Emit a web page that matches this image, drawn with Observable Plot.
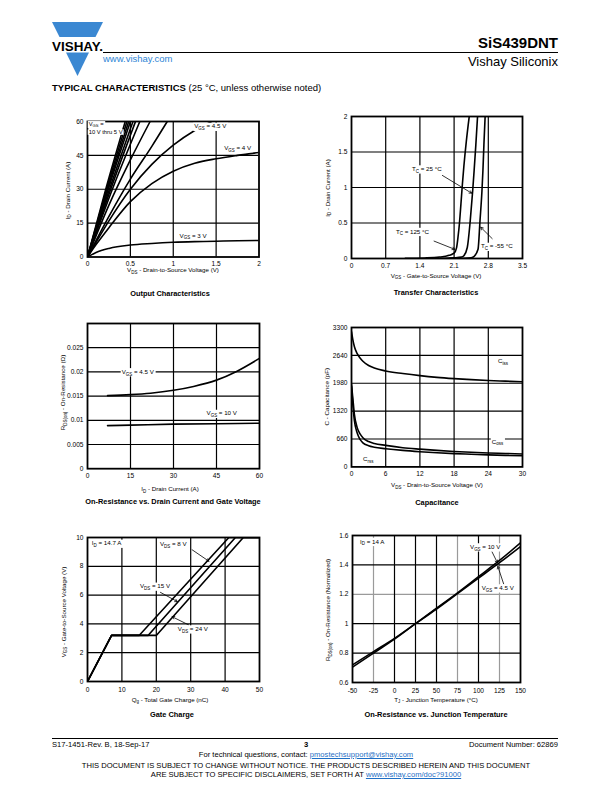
<!DOCTYPE html>
<html><head><meta charset="utf-8">
<script src="https://cdn.jsdelivr.net/npm/d3@7"></script>
<script src="https://cdn.jsdelivr.net/npm/@observablehq/plot@0.6"></script>
<style>
body{margin:0;background:#fff;}
#page{position:relative;width:612px;height:792px;overflow:hidden;font-family:'Liberation Sans',Arial,Helvetica,sans-serif;color:#000;background:#fff;}
.abs{position:absolute;white-space:nowrap;line-height:1;}
a{color:#1f6fc5;text-decoration:underline;}
</style></head><body><div id="page"></div>
<script>
// ---------------- DATA ----------------
// Output Characteristics: ID (A) vs VDS (V)
const outVgs10 = [[0,0],[0.22,31],[0.44,60]];
const outVgs9  = [[0,0],[0.23,31],[0.46,60]];
const outVgs8  = [[0,0],[0.24,31],[0.48,60]];
const outVgs7  = [[0,0],[0.25,31],[0.5,60]];
const outVgs6  = [[0,0],[0.265,31],[0.53,60]];
const outVgs55 = [[0,0],[0.28,31],[0.56,60]];
const outVgs5  = [[0,0],[0.3,31],[0.61,60]];
const outVgsB  = [[0,0],[0.25,23],[0.5,43],[0.73,60]];
const outVgsC  = [[0,0],[0.25,18],[0.5,34.5],[0.75,49],[0.93,60]];
const outVgs45 = [[0,0],[0.1,6.5],[0.25,16],[0.5,30],[0.75,41],[1,49.5],[1.25,56],[1.45,60]];
const outVgs4  = [[0,0],[0.1,5.5],[0.25,13],[0.5,24.5],[0.75,32.5],[1,38],[1.25,41.5],[1.5,43.5],[1.75,45],[2,46.3]];
const outVgs3  = [[0,0],[0.1,2],[0.25,3.8],[0.5,5.3],[0.75,6],[1,6.5],[1.25,6.8],[1.5,7],[1.75,7.2],[2,7.3]];
const outXTicks = [0,0.5,1,1.5,2];
const outYTicks = [0,15,30,45,60];

// Transfer Characteristics: ID (A) vs VGS (V)
const trT125 = [[1.1,0.003],[1.5,0.008],[1.8,0.02],[2.0,0.045],[2.1,0.075],[2.15,0.15],[2.18,0.3],[2.21,0.5],[2.24,0.77],[2.27,1.05],[2.3,1.3],[2.35,1.65],[2.41,2]];
const trT25  = [[1.6,0.002],[1.9,0.004],[2.1,0.01],[2.25,0.02],[2.3,0.04],[2.37,0.155],[2.43,0.53],[2.48,0.95],[2.51,1.24],[2.545,1.6],[2.58,2]];
const trTm55 = [[2.0,0.002],[2.3,0.004],[2.45,0.01],[2.51,0.03],[2.59,0.13],[2.63,0.53],[2.67,0.95],[2.69,1.24],[2.71,1.6],[2.735,2]];
const trXTicks = [0,0.7,1.4,2.1,2.8,3.5];
const trYTicks = [0,0.5,1,1.5,2];

// On-Resistance vs Drain Current: RDS(on) (ohm) vs ID (A)
const ronVgs45 = [[7,0.0151],[15,0.0153],[22,0.0156],[30,0.0162],[37,0.017],[45,0.0183],[52,0.0201],[60,0.0228]];
const ronVgs10 = [[7,0.0089],[15,0.009],[30,0.0092],[45,0.0093],[60,0.0094]];
const ronXTicks = [0,15,30,45,60];
const ronYTicks = [0,0.005,0.01,0.015,0.02,0.025];

// Capacitance: C (pF) vs VDS (V)
const capCiss = [[0,3200],[0.25,3000],[0.5,2850],[1,2680],[1.5,2580],[2,2500],[3,2400],[4,2340],[6,2270],[9,2210],[12,2160],[15,2120],[18,2090],[21,2065],[24,2045],[27,2030],[30,2015]];
const capCoss = [[0,1950],[0.25,1600],[0.5,1250],[1,930],[1.5,780],[2,690],[3,600],[4,555],[6,510],[9,455],[12,420],[15,390],[18,365],[21,345],[24,330],[27,318],[30,305]];
const capCrss = [[0,1900],[0.25,1450],[0.5,1100],[1,800],[1.5,650],[2,570],[3,500],[4,465],[6,430],[9,390],[12,360],[15,335],[18,315],[21,300],[24,285],[27,272],[30,262]];
const capXTicks = [0,6,12,18,24,30];
const capYTicks = [0,660,1320,1980,2640,3300];

// Gate Charge: VGS (V) vs Qg (nC)
const gcVds8  = [[0,0],[7,3.2],[15,3.2],[41.1,10],[50,10]];
const gcVds15 = [[0,0],[7,3.2],[17.6,3.2],[43,10],[50,10]];
const gcVds24 = [[0,0],[7,3.2],[20,3.2],[45.3,10],[50,10]];
const gcXTicks = [0,10,20,30,40,50];
const gcYTicks = [0,2,4,6,8,10];

// On-Resistance vs Junction Temperature (normalized)
const rtVgs10 = [[-50,0.705],[-25,0.8],[0,0.895],[25,1.0],[50,1.105],[75,1.21],[100,1.32],[125,1.43],[150,1.55]];
const rtVgs45 = [[-50,0.72],[-25,0.81],[0,0.9],[25,1.0],[50,1.1],[75,1.205],[100,1.31],[125,1.415],[150,1.525]];
const rtXTicks = [-50,-25,0,25,50,75,100,125,150];
const rtYTicks = [0.6,0.8,1,1.2,1.4,1.6];
const rtGridDarkX = [0,25,50,100];
const rtGridLightX = [-25,75,125];
const rtGridDarkY = [0.8,1,1.4];
const rtGridLightY = [1.2];

// ---------------- HELPERS ----------------
const FONT = "'Liberation Sans', Arial, Helvetica, sans-serif";
const TICK = 6.6, AXL = 6.2, NOTE = 6.2, TITLE = 7.4;
const page = document.getElementById("page");
const rows = (name, pts) => pts.map(([x, y]) => ({s: name, x, y}));
const inner = a => a.slice(1, -1);

function htext(html, o) {
  const d = document.createElement("div");
  d.className = "abs";
  d.innerHTML = html;
  d.style.fontSize = o.size + "px";
  d.style.fontWeight = o.weight || "normal";
  if (o.color) d.style.color = o.color;
  d.style.top = (o.baseline - 0.8465 * o.size) + "px";
  if (o.right != null) d.style.right = (612 - o.right) + "px";
  else if (o.center != null) { d.style.left = o.center + "px"; d.style.transform = "translateX(-50%)"; }
  else d.style.left = o.left + "px";
  page.appendChild(d);
  return d;
}

function rich(svg, x, y, str, o = {}) {
  const size = o.size ?? NOTE;
  const sel = d3.select(svg);
  const t = sel.append("text").attr("x", x).attr("y", y)
    .attr("font-family", FONT).attr("font-size", size)
    .attr("font-weight", o.weight ?? "normal")
    .attr("text-anchor", o.anchor ?? "start").attr("fill", "#000");
  if (o.rotate) t.attr("transform", `rotate(${o.rotate},${x},${y})`);
  const sh = size * 0.3;
  let shifted = false;
  const push = (txt, sub) => {
    if (!txt) return;
    const ts = t.append("tspan").text(txt);
    if (sub) { ts.attr("font-size", size * 0.72); if (!shifted) ts.attr("dy", sh); shifted = true; }
    else if (shifted) { ts.attr("dy", -sh); shifted = false; }
  };
  const re = /_\{([^}]*)\}/g; let last = 0, m;
  while ((m = re.exec(str))) { push(str.slice(last, m.index), false); push(m[1], true); last = re.lastIndex; }
  push(str.slice(last), false);
  if (o.bg) {
    const b = t.node().getBBox();
    sel.insert("rect", () => t.node())
      .attr("x", b.x - 1).attr("y", b.y + 0.3).attr("width", b.width + 2).attr("height", b.height - 0.6)
      .attr("fill", "#fff");
  }
  return t;
}

function scaleFn(s) {
  if (s && typeof s.apply === "function") return v => s.apply(v);
  const [d0, d1] = s.domain, [r0, r1] = s.range;
  return v => r0 + (v - d0) / (d1 - d0) * (r1 - r0);
}

function chart(cfg) {
  const f = cfg.frame;
  const m = {l: 40, r: 12, t: 12, b: 40};
  const fmt = d => String(d);
  const marks = [
    ...cfg.grids,
    Plot.line(cfg.series, {x: "x", y: "y", z: "s", stroke: "#000", strokeWidth: 1.6, curve: cfg.curve ?? "monotone-x", clip: true}),
  ];
  if (cfg.arrows) marks.push(Plot.arrow(cfg.arrows, {x1: "x1", y1: "y1", x2: "x2", y2: "y2", stroke: "#000", strokeWidth: 0.8, headLength: 5}));
  marks.push(Plot.frame({stroke: "#000", strokeWidth: 1.8}));
  const plot = Plot.plot({
    width: f.w + m.l + m.r, height: f.h + m.t + m.b,
    marginLeft: m.l, marginRight: m.r, marginTop: m.t, marginBottom: m.b,
    style: {fontFamily: FONT, fontSize: TICK + "px", background: "transparent", overflow: "visible", color: "#000"},
    x: {domain: cfg.xd, ticks: cfg.xt, tickSize: 0, tickPadding: cfg.xpad ?? 4.5, tickFormat: fmt, label: null},
    y: {domain: cfg.yd, ticks: cfg.yt, tickSize: 0, tickPadding: 4, tickFormat: fmt, label: null},
    marks
  });
  const ox = f.l - m.l, oy = f.t - m.t;
  plot.style.position = "absolute";
  plot.style.left = ox + "px";
  plot.style.top = oy + "px";
  page.appendChild(plot);
  const fx = scaleFn(plot.scale("x")), fy = scaleFn(plot.scale("y"));
  return {
    svg: plot,
    note: (x, y, s, o = {}) => rich(plot, fx(x), fy(y), s, {bg: true, ...o}),
    pnote: (px, py, s, o = {}) => rich(plot, px - ox, py - oy, s, o)
  };
}
const gX = (v, c = "#000") => Plot.ruleX(v, {stroke: c, strokeWidth: 1.2});
const gY = (v, c = "#000") => Plot.ruleY(v, {stroke: c, strokeWidth: 1.2});

// ---------------- HEADER ----------------
page.insertAdjacentHTML("beforeend", `
<svg style="position:absolute;left:50px;top:20px" width="56" height="60">
  <polygon points="2,2 53,2 45.5,17 9.5,17" fill="#3b88d2"/>
  <polygon points="16,32.5 39,32.5 27.5,56" fill="#3b88d2"/>
  <text x="27.5" y="30.5" text-anchor="middle" font-family="${FONT}" font-weight="bold" font-size="13" textLength="51" lengthAdjust="spacingAndGlyphs">VISHAY.</text>
</svg>
<div class="abs" style="left:103px;top:52px;width:455px;height:1px;background:#000"></div>
<div class="abs" style="left:52px;top:737.5px;width:506px;height:1px;background:#000"></div>`);
htext("SiS439DNT", {right: 558, baseline: 47.5, size: 15, weight: "bold"});
htext("www.vishay.com", {left: 103, baseline: 62, size: 9.5, color: "#2f86d6"});
htext("Vishay Siliconix", {right: 558, baseline: 66.5, size: 13});
htext("<b>TYPICAL CHARACTERISTICS</b> (25 °C, unless otherwise noted)", {left: 52, baseline: 91.5, size: 9.5});

// ---------------- FOOTER ----------------
htext("S17-1451-Rev. B, 18-Sep-17", {left: 52, baseline: 747, size: 7.6});
htext("<b>3</b>", {center: 306, baseline: 747, size: 7.6});
htext("Document Number: 62869", {right: 558, baseline: 747, size: 7.6});
htext('For technical questions, contact: <a>pmostechsupport@vishay.com</a>', {center: 306, baseline: 757, size: 7.6});
htext("THIS DOCUMENT IS SUBJECT TO CHANGE WITHOUT NOTICE. THE PRODUCTS DESCRIBED HEREIN AND THIS DOCUMENT", {center: 306, baseline: 768.5, size: 7.6});
htext('ARE SUBJECT TO SPECIFIC DISCLAIMERS, SET FORTH AT <a>www.vishay.com/doc?91000</a>', {center: 306, baseline: 777.5, size: 7.6});

// ---------------- CHART 1: Output Characteristics ----------------
{
  const c = chart({
    frame: {l: 87, t: 120.5, w: 171.5, h: 135.5},
    xd: [0, 2], yd: [0, 60], xt: outXTicks, yt: outYTicks,
    grids: [gX(inner(outXTicks)), gY(inner(outYTicks))],
    series: [
      ...rows("10", outVgs10), ...rows("9", outVgs9), ...rows("8", outVgs8), ...rows("7", outVgs7),
      ...rows("6", outVgs6), ...rows("5.5", outVgs55), ...rows("5", outVgs5), ...rows("B", outVgsB),
      ...rows("C", outVgsC), ...rows("4.5", outVgs45), ...rows("4", outVgs4), ...rows("3", outVgs3)
    ]
  });
  c.note(0.02, 57.9, "V_{GS} =", {size: 5.8});
  c.note(0.02, 54.2, "10 V thru 5 V", {size: 5.8});
  c.note(1.25, 56.7, "V_{GS} = 4.5 V");
  c.note(1.6, 47.3, "V_{GS} = 4 V");
  c.note(1.08, 8.4, "V_{GS} = 3 V");
  c.pnote(69.5, 190, "I_{D} - Drain Current (A)", {rotate: -90, anchor: "middle", size: AXL});
  c.pnote(173, 271.5, "V_{DS} - Drain-to-Source Voltage (V)", {anchor: "middle", size: AXL});
  c.pnote(170, 295, "Output Characteristics", {anchor: "middle", size: TITLE, weight: "bold"});
}

// ---------------- CHART 2: Transfer Characteristics ----------------
{
  const c = chart({
    frame: {l: 351, t: 116, w: 171, h: 142},
    xd: [0, 3.5], yd: [0, 2], xt: trXTicks, yt: trYTicks,
    grids: [gX(inner(trXTicks)), gY(inner(trYTicks))],
    series: [...rows("125", trT125), ...rows("25", trT25), ...rows("-55", trTm55)],
    arrows: [
      {x1: 1.86, y1: 1.17, x2: 2.46, y2: 0.92},
      {x1: 1.69, y1: 0.245, x2: 2.11, y2: 0.13},
      {x1: 2.88, y1: 0.28, x2: 2.645, y2: 0.44}
    ]
  });
  c.note(1.25, 1.225, "T_{C} = 25 °C");
  c.note(0.92, 0.345, "T_{C} = 125 °C");
  c.note(2.66, 0.135, "T_{C} = -55 °C");
  c.pnote(329.5, 188, "I_{D} - Drain Current (A)", {rotate: -90, anchor: "middle", size: AXL});
  c.pnote(436, 277.5, "V_{GS} - Gate-to-Source Voltage (V)", {anchor: "middle", size: AXL});
  c.pnote(436, 294.5, "Transfer Characteristics", {anchor: "middle", size: TITLE, weight: "bold"});
}

// ---------------- CHART 3: On-Resistance vs Drain Current ----------------
{
  const c = chart({
    frame: {l: 87, t: 322.5, w: 172, h: 145.2},
    xd: [0, 60], yd: [0, 0.03], xt: ronXTicks, yt: ronYTicks,
    grids: [gX(inner(ronXTicks)), gY(ronYTicks.slice(1))],
    series: [...rows("4.5", ronVgs45), ...rows("10", ronVgs10)]
  });
  c.note(12.1, 0.0195, "V_{GS} = 4.5 V");
  c.note(41.7, 0.0109, "V_{GS} = 10 V");
  c.pnote(65.5, 392, "R_{DS(on)} - On-Resistance (Ω)", {rotate: -90, anchor: "middle", size: AXL});
  c.pnote(170, 490.5, "I_{D} - Drain Current (A)", {anchor: "middle", size: AXL});
  c.pnote(173, 504, "On-Resistance vs. Drain Current and Gate Voltage", {anchor: "middle", size: TITLE, weight: "bold"});
}

// ---------------- CHART 4: Capacitance ----------------
{
  const c = chart({
    frame: {l: 351, t: 327.3, w: 171, h: 139.4},
    xd: [0, 30], yd: [0, 3300], xt: capXTicks, yt: capYTicks,
    grids: [gX(inner(capXTicks)), gY(inner(capYTicks))],
    series: [...rows("Ciss", capCiss), ...rows("Coss", capCoss), ...rows("Crss", capCrss)]
  });
  c.note(25.8, 2440, "C_{iss}");
  c.note(24.7, 540, "C_{oss}");
  c.note(2.1, 135, "C_{rss}");
  c.pnote(329.5, 397, "C - Capacitance (pF)", {rotate: -90, anchor: "middle", size: AXL});
  c.pnote(437, 487.5, "V_{DS} - Drain-to-Source Voltage (V)", {anchor: "middle", size: AXL});
  c.pnote(437, 505, "Capacitance", {anchor: "middle", size: TITLE, weight: "bold"});
}

// ---------------- CHART 5: Gate Charge ----------------
{
  const c = chart({
    frame: {l: 87, t: 537, w: 172, h: 144},
    xd: [0, 50], yd: [0, 10], xt: gcXTicks, yt: gcYTicks, xpad: 5.5, curve: "linear",
    grids: [gX(inner(gcXTicks)), gY(inner(gcYTicks))],
    series: [...rows("8", gcVds8), ...rows("15", gcVds15), ...rows("24", gcVds24)],
    arrows: [
      {x1: 30.4, y1: 9.15, x2: 35.3, y2: 8.35},
      {x1: 21.2, y1: 6.19, x2: 26.1, y2: 5.55},
      {x1: 29.4, y1: 3.93, x2: 24.6, y2: 4.5}
    ]
  });
  c.note(1.4, 9.42, "I_{D} = 14.7 A");
  c.note(21.2, 9.4, "V_{DS} = 8 V");
  c.note(15.4, 6.44, "V_{DS} = 15 V");
  c.note(26.4, 3.47, "V_{DS} = 24 V");
  c.pnote(65.5, 612, "V_{GS} - Gate-to-Source Voltage (V)", {rotate: -90, anchor: "middle", size: AXL});
  c.pnote(170, 701.5, "Q_{g} - Total Gate Charge (nC)", {anchor: "middle", size: AXL});
  c.pnote(172, 717, "Gate Charge", {anchor: "middle", size: TITLE, weight: "bold"});
}

// ---------------- CHART 6: On-Resistance vs Junction Temperature ----------------
{
  const c = chart({
    frame: {l: 352, t: 535, w: 168, h: 147},
    xd: [-50, 150], yd: [0.6, 1.6], xt: rtXTicks, yt: rtYTicks, xpad: 5.5,
    grids: [gX(rtGridLightX, "#9a9a9a"), gY(rtGridLightY, "#9a9a9a"), gX(rtGridDarkX), gY(rtGridDarkY)],
    series: [...rows("10", rtVgs10), ...rows("4.5", rtVgs45)],
    arrows: [
      {x1: 116, y1: 1.49, x2: 122.5, y2: 1.415},
      {x1: 130, y1: 1.27, x2: 123, y2: 1.39}
    ]
  });
  c.note(-40.5, 1.542, "I_{D} = 14 A");
  c.note(90.5, 1.505, "V_{GS} = 10 V");
  c.note(104.4, 1.226, "V_{GS} = 4.5 V");
  c.pnote(330, 610, "R_{DS(on)} - On-Resistance (Normalized)", {rotate: -90, anchor: "middle", size: AXL});
  c.pnote(436, 701.5, "T_{J} - Junction Temperature (°C)", {anchor: "middle", size: AXL});
  c.pnote(436, 717, "On-Resistance vs. Junction Temperature", {anchor: "middle", size: TITLE, weight: "bold"});
}
</script></body></html>
